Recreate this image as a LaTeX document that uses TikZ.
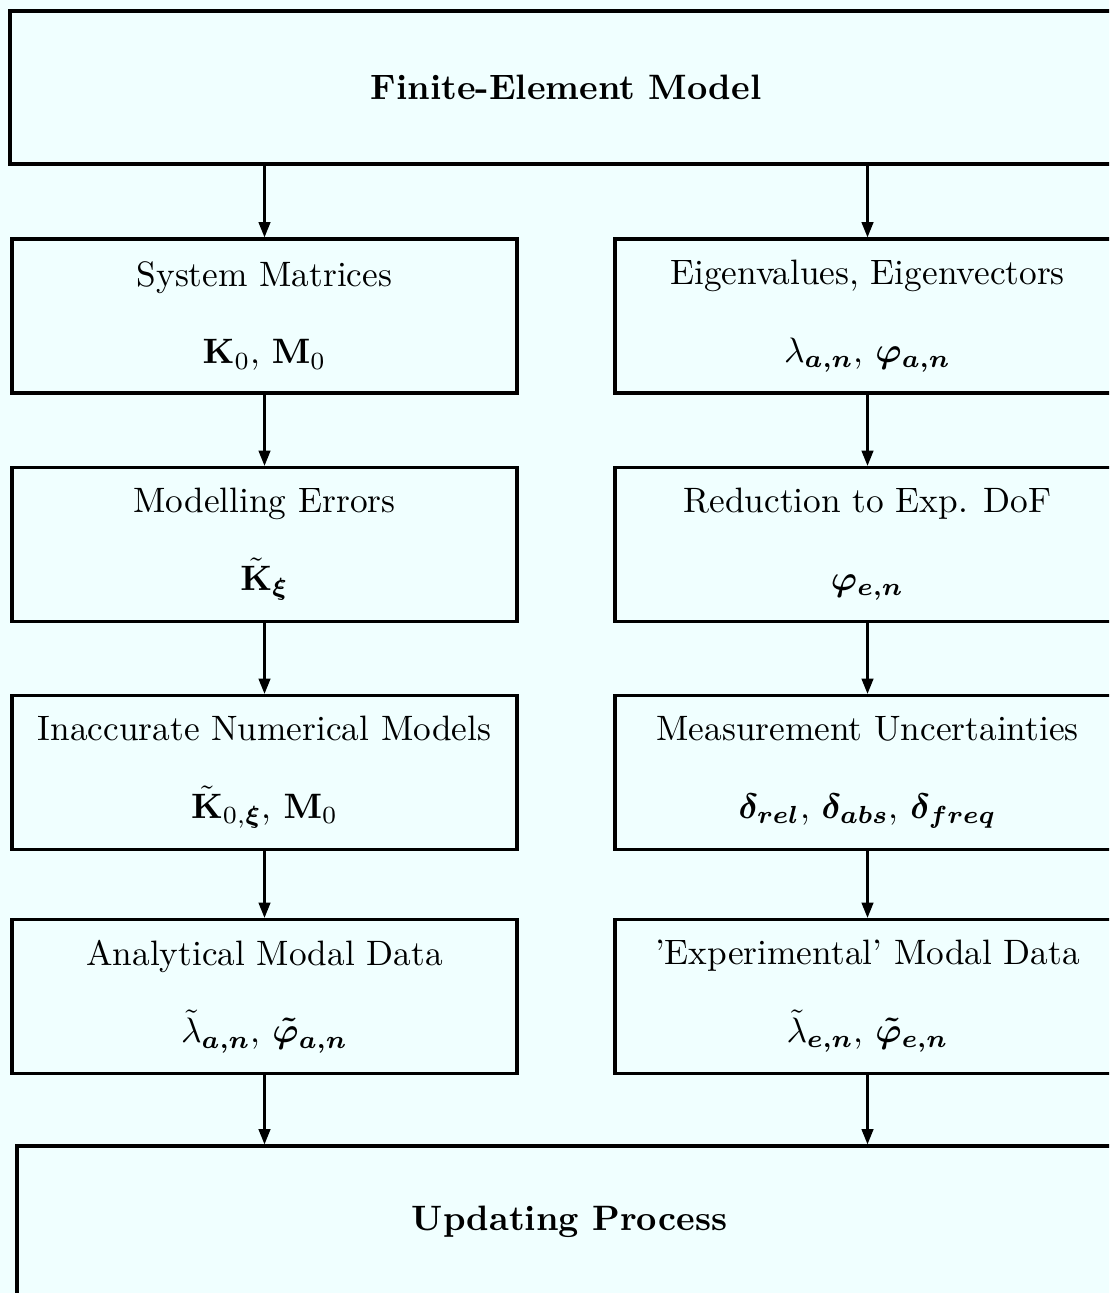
\documentclass[tikz,border=0pt]{standalone}
\usepackage{amsmath}
\usepackage{bm}
\usetikzlibrary{arrows.meta}
\definecolor{bgc}{RGB}{240,255,255}
\tikzset{
  box/.style={draw, line width=0.93pt, fill=bgc, align=center, inner sep=0pt,
              minimum width=505*0.2833pt, minimum height=154*0.2833pt},
  bigbox/.style={draw, line width=0.93pt, fill=bgc, align=center, inner sep=0pt,
              minimum height=153*0.2833pt},
  arr/.style={line width=0.6pt, -{Triangle[length=4.3pt,width=3.3pt]}}
}
\begin{document}
\begin{tikzpicture}[x=0.2833pt,y=-0.2833pt]
\fill[bgc] (0,0) rectangle (1109,1293);
\useasboundingbox (0,0) rectangle (1109,1293);
\clip (0,0) rectangle (1109,1293);
\node[bigbox, minimum width=1112*0.2833pt] (fem) at (566,87.5) {\textbf{Finite-Element Model}};
% left column
\node[box] (sm) at (264.5,316) {System Matrices\\[10pt]$\mathbf{K}_0$, $\mathbf{M}_0$};
\node[box] (me) at (264.5,544.5) {Modelling Errors\\[10pt]$\tilde{\mathbf{K}}_{\bm\xi}$};
\node[box] (inm) at (264.5,772.5) {Inaccurate Numerical Models\\[10pt]$\tilde{\mathbf{K}}_{0,\bm\xi}$, $\mathbf{M}_0$};
\node[box] (amd) at (264.5,996.5) {Analytical Modal Data\\[10pt]$\tilde\lambda_{\bm{a,n}}$, $\bm{\tilde\varphi_{a,n}}$};
% right column
\node[box] (ev) at (867.5,316) {Eigenvalues, Eigenvectors\\[10pt]$\lambda_{\bm{a,n}}$, $\bm{\varphi_{a,n}}$};
\node[box] (red) at (867.5,544.5) {Reduction to Exp. DoF\\[10pt]$\bm{\varphi_{e,n}}$};
\node[box] (mu) at (867.5,772.5) {Measurement Uncertainties\\[10pt]$\bm{\delta_{rel}}$, $\bm{\delta_{abs}}$, $\bm{\delta_{freq}}$};
\node[box] (emd) at (867.5,996.5) {'Experimental' Modal Data\\[10pt]$\tilde\lambda_{\bm{e,n}}$, $\bm{\tilde\varphi_{e,n}}$};
% bottom
\node[bigbox, minimum width=1105*0.2833pt, minimum height=152*0.2833pt] (up) at (569.5,1222) {\textbf{Updating Process}};
% connectors
\draw[arr] (fem.south -| sm.north) -- (sm.north);
\draw[arr] (fem.south -| ev.north) -- (ev.north);
\draw[arr] (sm) -- (me);
\draw[arr] (me) -- (inm);
\draw[arr] (inm) -- (amd);
\draw[arr] (ev) -- (red);
\draw[arr] (red) -- (mu);
\draw[arr] (mu) -- (emd);
\draw[arr] (amd.south) -- (amd.south |- up.north);
\draw[arr] (emd.south) -- (emd.south |- up.north);
\end{tikzpicture}
\end{document}
